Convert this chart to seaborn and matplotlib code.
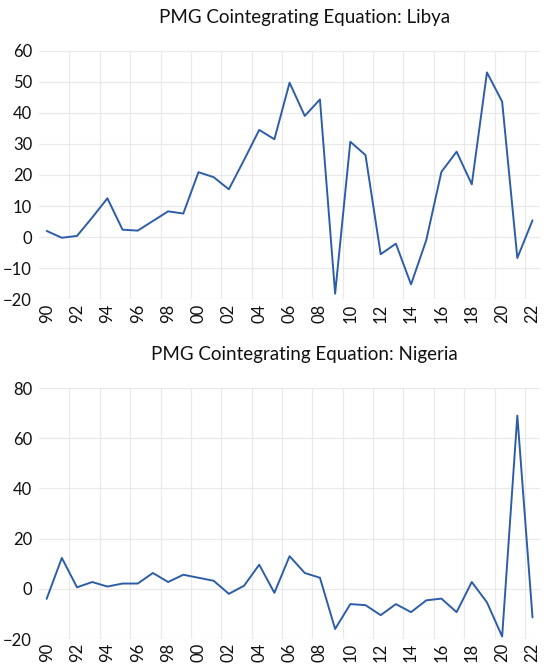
import numpy as np
import pandas as pd
import matplotlib
matplotlib.use("Agg")
import matplotlib.pyplot as plt
import seaborn as sns

years = list(range(1990, 2023))
libya = [2.0, -0.2, 0.4, 6.3, 12.5, 2.4, 2.1, 5.2, 8.3, 7.6, 20.9, 19.3, 15.4, 24.8, 34.5, 31.5,
         49.7, 39.0, 44.3, -18.2, 30.7, 26.4, -5.5, -2.1, -15.2, -1.0, 21.0, 27.5, 17.0, 53.0,
         43.6, -6.7, 5.4]
nigeria = [-4.0, 12.3, 0.6, 2.7, 0.9, 2.1, 2.1, 6.3, 2.7, 5.6, 4.4, 3.2, -2.0, 1.2, 9.6, -1.6,
           13.0, 6.3, 4.4, -16.0, -6.1, -6.5, -10.5, -6.1, -9.3, -4.6, -3.9, -9.3, 2.7, -5.4,
           -19.0, 69.0, -11.4]
titles = ["PMG Cointegrating Equation: Libya", "PMG Cointegrating Equation: Nigeria"]
x_labels = [f"{y % 100:02d}" for y in range(1990, 2023, 2)]

sns.set_style("white")
plt.rcParams['font.family'] = ['Lato', 'DejaVu Sans']

fig = plt.figure(figsize=(5.5, 6.72), dpi=100)
ax1 = fig.add_axes([0.071, 0.5546, 0.911, 0.37])
ax2 = fig.add_axes([0.071, 0.0491, 0.911, 0.3735])

line_color = "#2E5DA8"
grid_color = "#e9e9e9"
text_color = "#111111"

specs = [
    (ax1, libya, titles[0], np.arange(-20, 61, 10), (-20, 60)),
    (ax2, nigeria, titles[1], np.arange(-20, 81, 20), (-20, 80)),
]
for ax, vals, title, yticks, ylim in specs:
    df = pd.DataFrame({"year": years, "value": vals})
    sns.lineplot(data=df, x="year", y="value", ax=ax, color=line_color, linewidth=1.4)
    ax.set_xlim(1989.5, 2022.5)
    ax.set_ylim(*ylim)
    ax.set_yticks(yticks)
    ax.set_yticklabels([f"{int(t)}".replace("-", "\u2212") for t in yticks],
                       fontsize=12, color=text_color)
    ax.set_xticks(list(range(1990, 2023, 2)))
    ax.set_xticklabels(x_labels, rotation=90, fontsize=12, color=text_color)
    ax.set_xticks(np.arange(1991.5, 2022, 2), minor=True)
    ax.tick_params(which="both", length=0)
    ax.tick_params(axis="y", pad=5)
    ax.tick_params(axis="x", pad=3)
    ax.grid(False)
    ax.grid(which="minor", axis="x", color=grid_color, linewidth=0.9)
    ax.grid(which="major", axis="y", color=grid_color, linewidth=0.9)
    ax.set_axisbelow(True)
    for s in ax.spines.values():
        s.set_visible(False)
    ax.set_xlabel("")
    ax.set_ylabel("")
    ax.set_title(title, fontsize=13.5, pad=20, x=0.53, color=text_color)

fig.savefig("out.png", dpi=100)
